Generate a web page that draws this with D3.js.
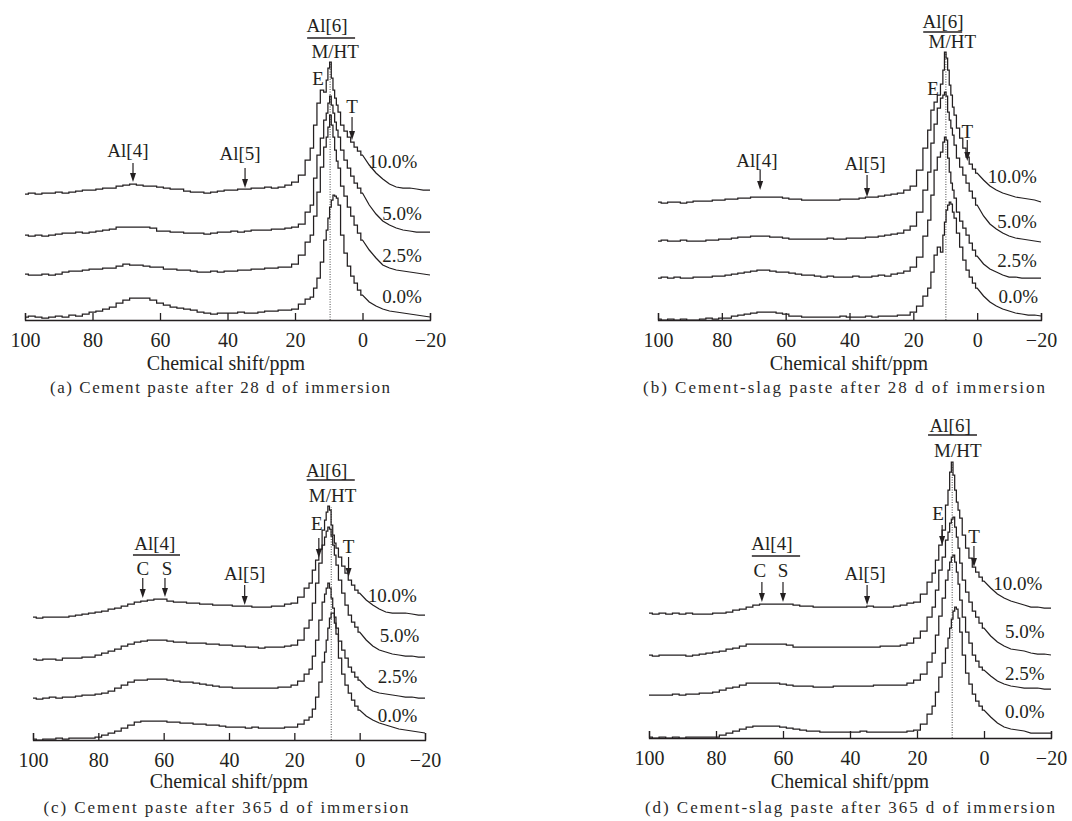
<!DOCTYPE html>
<html>
<head>
<meta charset="utf-8">
<script src="https://cdn.jsdelivr.net/npm/d3@7/dist/d3.min.js"></script>
<style>
  body { margin: 0; background: #fff; }
  svg text { font-family: "Liberation Serif", "Times New Roman", serif; fill: #231f20; }
</style>
</head>
<body>
<div id="chart"></div>
<script>
// chemical shift grid (ppm) shared by every spectrum
const shifts = [100,98,96,94,92,90,88,86,84,82,80,78,76,74,72,70,68,66,64,62,60,58,56,54,52,50,48,46,44,42,40,38,36,34,32,30,28,26,24,
  22,20,18,16, 15,14,13,12,11, 10.5,10,9.5,9,8.5,8,7.5,7, 6,5,4,3,2,1,0, -2,-4,-6,-8,-10,-12,-14,-16,-18,-20];

const series = ['0.0%', '2.5%', '5.0%', '10.0%'];
const tickValues = [100, 80, 60, 40, 20, 0, -20];
const captions = [
  '(a) Cement paste after 28 d of immersion',
  '(b) Cement-slag paste after 28 d of immersion',
  '(c) Cement paste after 365 d of immersion',
  '(d) Cement-slag paste after 365 d of immersion'
];

// (a) cement, 28 d
const specA0   = [0,1,0,-1,0,1,0,2,1,3, 5,6,8,10,14,17,19,19,19,17, 14,12,10,9,8,7,5,4,3,4, 4,4,5,4,4,5,6,6,7, 7,8,13,18, 20,29,39,55,77, 87,99,110,117,122,121,119,112, 82,64,51,41,34,27,22, 15,11,8,6,5,4,3,2,1,0];
const specA25  = [0,-1,-1,0,-1,0,2,3,3,4, 5,5,6,6,8,10,9,9,8,7, 7,5,5,4,4,3,2,2,3,2, 3,3,4,4,5,5,6,6,7, 7,10,19,32, 39,58,82,107,127, 137,147,159,149,137,124,113,106, 88,78,67,58,49,41,34, 24,16,9,6,4,3,2,1,0,-1];
const specA50  = [0,-1,0,-1,0,1,2,2,3,2, 3,4,5,6,8,8,8,8,8,7, 4,4,3,3,2,2,2,1,2,3, 3,4,3,4,5,5,5,6,6, 7,8,11,23, 30,57,80,97,115, 122,132,139,130,122,113,105,98, 85,75,67,59,52,47,42, 30,21,14,10,7,5,4,3,3,3];
const specA100 = [0,1,0,1,1,2,1,2,3,4, 4,5,6,6,8,9,10,9,8,8, 7,6,5,5,3,2,2,1,2,3, 4,4,5,5,6,6,7,6,7, 9,12,19,34, 46,69,91,104,102, 114,126,132,116,104,96,89,82, 69,63,57,52,47,43,39, 29,21,15,10,7,6,6,5,4,4];

// (b) cement-slag, 28 d
const specB0   = [0,-1,0,-1,0,-1,-1,0,1,0, 1,1,3,4,5,6,7,7,7,6, 5,3,3,2,2,2,2,2,2,3, 2,2,2,3,2,3,3,3,4, 4,7,13,23, 31,47,64,72,67, 84,97,109,114,117,115,107,101, 86,72,59,49,42,36,31, 23,17,13,10,8,6,5,4,4,3];
const specB25  = [0,1,0,1,0,0,1,1,1,2, 2,3,4,5,6,7,8,8,7,6, 6,5,4,3,3,2,1,2,1,1, 1,2,1,1,2,3,2,4,5, 7,11,21,42, 58,83,108,121,126, 136,141,138,120,106,95,88,80, 66,57,50,43,35,28,22, 14,9,6,3,1,1,0,0,0,0];
const specB50  = [0,1,0,0,1,0,0,0,1,1, 2,2,3,4,4,5,5,5,4,4, 3,2,2,2,2,2,2,3,2,2, 3,3,3,4,4,5,6,7,8, 11,15,29,51, 69,98,117,133,143, 146,149,145,129,121,113,106,96, 83,74,66,58,50,43,36, 25,17,12,8,5,3,2,1,0,-1];
const specB100 = [0,-1,0,0,-1,0,1,1,1,2, 2,3,3,4,4,5,5,5,5,5, 4,3,3,2,2,2,2,2,2,3, 3,3,4,5,5,6,7,8,9, 12,16,32,54, 72,92,100,107,118, 132,150,144,132,117,107,95,87, 74,64,54,45,38,33,29, 22,16,12,9,7,5,4,3,2,0];

// (c) cement, 365 d
const specC0   = [0,-1,0,0,1,0,1,1,1,1, 2,4,6,8,11,14,17,18,18,18, 18,17,17,16,16,15,15,14,14,13, 12,12,12,11,12,11,11,11,11, 12,12,15,19, 22,30,42,57,77, 87,99,111,121,126,126,116,105, 81,65,54,46,39,33,29, 23,19,16,14,12,10,9,8,7,6];
const specC25  = [0,-1,0,1,0,1,1,2,3,3, 4,5,7,10,13,16,18,18,19,19, 19,18,17,16,16,15,14,13,12,11, 11,10,10,10,10,10,10,10,11, 11,13,17,24, 29,42,58,78,96, 104,110,115,110,100,90,81,70, 57,48,40,31,26,21,18, 11,7,5,4,3,2,1,1,0,0];
const specC50  = [0,-1,0,0,-1,1,1,1,2,2, 4,6,8,10,13,15,17,18,19,19, 19,18,17,17,16,16,16,15,15,14, 14,13,13,12,12,11,12,12,12, 13,14,19,31, 39,56,76,96,114, 122,128,132,130,123,114,104,94, 79,66,54,44,37,32,27, 19,13,9,7,5,4,3,3,2,2];
const specC100 = [0,-1,0,0,0,0,1,2,3,4, 5,6,8,9,11,13,15,16,17,18, 18,16,15,15,14,14,13,13,12,12, 12,11,11,11,10,10,10,11,11, 13,14,20,29, 34,47,57,68,87, 97,105,111,107,92,82,74,69, 60,51,44,37,32,27,24, 17,12,8,5,4,4,4,3,2,2];

// (d) cement-slag, 365 d
const specD0   = [0,-1,0,-1,0,-1,0,0,0,0, 0,2,4,6,8,10,11,11,11,11, 10,9,8,7,6,6,5,5,5,5, 5,5,6,5,5,5,5,5,5, 6,7,13,23, 31,45,60,74,89, 99,109,118,126,130,128,119,105, 82,64,53,43,36,31,27, 20,14,10,8,7,6,4,4,4,4];
const specD25  = [0,0,0,0,1,0,1,1,2,2, 3,5,7,8,10,12,12,12,12,12, 11,10,9,9,9,8,8,8,9,9, 9,9,9,9,10,10,10,10,10, 12,15,21,33, 42,60,79,97,115, 125,133,138,140,133,123,111,95, 78,63,52,40,34,28,25, 19,14,11,9,8,7,7,7,6,6];
const specD50  = [0,-1,0,0,0,0,-1,0,1,2, 3,4,6,7,9,11,11,11,11,11, 11,10,8,8,8,8,8,8,8,8, 8,8,8,8,8,9,9,9,10, 12,17,24,38, 48,65,85,98,115, 123,132,136,138,128,118,107,92, 75,63,53,44,38,32,27, 19,13,9,6,5,4,2,1,1,0];
const specD100 = [0,-1,0,-1,0,-1,0,-1,-1,-1, 0,0,1,3,4,6,8,9,9,9, 9,9,8,7,7,6,6,6,6,6, 6,6,6,7,6,6,6,7,8, 10,11,19,31, 40,53,68,83,108, 123,141,151,138,123,111,103,95, 78,65,55,46,41,36,32, 25,19,15,12,10,8,6,6,5,5];

// vertical stacking offsets of the four traces (0.0, 2.5, 5.0, 10.0 %)
const offsetsA = [3, 46, 85, 126];
const offsetsB = [1, 42, 79, 118];
const offsetsC = [1, 42, 81, 123];
const offsetsD = [1, 43, 83, 125];

// layout and annotations, placed in (ppm, intensity) coordinates
const panels = [
  { spectra: [specA0, specA25, specA50, specA100], offsets: offsetsA,
    x0: 25, x1: 430, axisY: 320, titleX: 226, titleY: 370, capX: 220, capY: 393, capW: 340,
    peak: 9.6, peakTop: 257,
    pct: [[-11.7, 17], [-11.7, 58], [-11.7, 100], [-9, 152]],
    labels: [['Al[6]', 10.5, 288], ['M/HT', 8.1, 262], ['E', 13.2, 235], ['T', 3.1, 207], ['Al[4]', 69.5, 163], ['Al[5]', 36.3, 160]],
    arrows: [[3.1, 203, 180], [68, 157, 138], [34.8, 152, 132]],
    bars: [[16.4, 2.2, 282]] },
  { spectra: [specB0, specB25, specB50, specB100], offsets: offsetsB,
    x0: 658, x1: 1041, axisY: 320, titleX: 849, titleY: 370, capX: 844, capY: 393, capW: 402,
    peak: 9.8, peakTop: 268,
    pct: [[-12.9, 17], [-12.5, 53], [-12.5, 92], [-11, 137]],
    labels: [['Al[6]', 10.7, 292], ['M/HT', 7.8, 272], ['E', 13.8, 225], ['T', 3.1, 182], ['Al[4]', 69, 153], ['Al[5]', 35.1, 150]],
    arrows: [[3.1, 180, 159], [68, 150, 130], [34.5, 145, 123]],
    bars: [[16.9, 4.7, 288]] },
  { spectra: [specC0, specC25, specC50, specC100], offsets: offsetsC,
    x0: 33, x1: 425, axisY: 740, titleX: 229, titleY: 788, capX: 226, capY: 813, capW: 365,
    peak: 8.7, peakTop: 233,
    pct: [[-11.6, 18], [-11.6, 57], [-12.2, 98], [-10, 138]],
    labels: [['Al[6]', 10.1, 263], ['M/HT', 8.3, 238], ['E', 13.1, 210], ['T', 3.4, 187], ['Al[4]', 62.7, 190],
             ['C', 66.4, 165], ['S', 59, 165], ['Al[5]', 35.2, 160]],
    arrows: [[12.5, 202, 182], [3.4, 183, 163], [66.4, 162, 142], [59.6, 162, 143], [35.2, 155, 135]],
    bars: [[16.2, 1.5, 260], [69.4, 55, 185]] },
  { spectra: [specD0, specD25, specD50, specD100], offsets: offsetsD,
    x0: 649, x1: 1051, axisY: 738, titleX: 850, titleY: 788, capX: 850, capY: 813, capW: 410,
    peak: 9.5, peakTop: 275,
    pct: [[-12.2, 20], [-12.2, 58], [-12.2, 100], [-10.1, 148]],
    labels: [['Al[6]', 10.1, 306], ['M/HT', 7.8, 281], ['E', 13.7, 218], ['T', 3, 195], ['Al[4]', 63.3, 188],
             ['C', 66.9, 161], ['S', 60, 161], ['Al[5]', 35.5, 158]],
    arrows: [[12.5, 213, 193], [3, 192, 171], [66.3, 156, 136], [60, 156, 136], [34.9, 153, 133]],
    bars: [[16.7, 2.1, 303], [69.3, 54.9, 182]] }
];

const ink = '#231f20';
const serif = '"Liberation Serif", "Times New Roman", serif';
const svg = d3.select('#chart').append('svg')
  .attr('width', 1072)
  .attr('height', 821);

// digitised look: stepped down to 0 ppm, the wide-spaced upfield tail drawn straight
const split = shifts.indexOf(0);

panels.forEach((p, pi) => {
  const x = d3.scaleLinear().domain([100, -20]).range([p.x0, p.x1]);
  const y = d3.scaleLinear().domain([0, 300]).range([p.axisY, p.axisY - 300]);
  const g = svg.append('g').attr('font-family', serif);

  // dotted reference line through the M/HT peak
  g.append('line')
    .attr('x1', x(p.peak)).attr('x2', x(p.peak))
    .attr('y1', y(0)).attr('y2', y(p.peakTop))
    .attr('stroke', '#333')
    .attr('stroke-width', 0.9)
    .attr('stroke-dasharray', '1,1.5');

  // spectra
  p.spectra.forEach((spec, k) => {
    const pts = spec.map((v, i) => [x(shifts[i]), y(v + p.offsets[k])]);
    const stepLine = d3.line().curve(d3.curveStep);
    const straight = d3.line();
    g.append('path')
      .attr('fill', 'none')
      .attr('stroke', ink)
      .attr('stroke-width', 1.25)
      .attr('d', stepLine(pts.slice(0, split + 1)) + straight(pts.slice(split)).replace(/^M/, 'L'));
  });

  // x axis, ticks pointing up
  const axis = d3.axisBottom(x)
    .tickValues(tickValues)
    .tickSizeInner(-7)
    .tickSizeOuter(-7)
    .tickPadding(13)
    .tickFormat(d => d < 0 ? '\u2212' + Math.abs(d) : d);
  g.append('g')
    .attr('transform', `translate(0,${p.axisY})`)
    .call(axis)
    .attr('font-family', serif)
    .attr('font-size', 20)
    .call(a => a.selectAll('path, line').attr('stroke', ink).attr('stroke-width', 1.3))
    .call(a => a.selectAll('text').attr('fill', ink));

  g.append('text')
    .attr('x', p.titleX)
    .attr('y', p.titleY)
    .attr('text-anchor', 'middle')
    .attr('font-size', 20)
    .text('Chemical shift/ppm');

  g.append('text')
    .attr('x', p.capX - p.capW / 2)
    .attr('y', p.capY)
    .attr('font-size', 17)
    .attr('textLength', p.capW)
    .attr('lengthAdjust', 'spacing')
    .style('fill', '#2a2a2a')
    .text(captions[pi]);

  // percentage labels
  p.pct.forEach((c, k) => {
    g.append('text')
      .attr('x', x(c[0]))
      .attr('y', y(c[1]))
      .attr('text-anchor', 'middle')
      .attr('font-size', 19)
      .text(series[k]);
  });

  // peak labels
  p.labels.forEach(l => {
    g.append('text')
      .attr('x', x(l[1]))
      .attr('y', y(l[2]))
      .attr('text-anchor', 'middle')
      .attr('font-size', 19)
      .text(l[0]);
  });

  p.bars.forEach(b => {
    g.append('line')
      .attr('x1', x(b[0])).attr('x2', x(b[1]))
      .attr('y1', y(b[2])).attr('y2', y(b[2]))
      .attr('stroke', ink)
      .attr('stroke-width', 1.4);
  });

  p.arrows.forEach(a => {
    const ax = x(a[0]), y0 = y(a[1]), y1 = y(a[2]);
    g.append('line')
      .attr('x1', ax).attr('x2', ax)
      .attr('y1', y0).attr('y2', y1 - 6)
      .attr('stroke', ink)
      .attr('stroke-width', 1.2);
    g.append('path')
      .attr('d', `M${ax - 3},${y1 - 9}L${ax + 3},${y1 - 9}L${ax},${y1}Z`)
      .attr('fill', ink);
  });
});
</script>
</body>
</html>
